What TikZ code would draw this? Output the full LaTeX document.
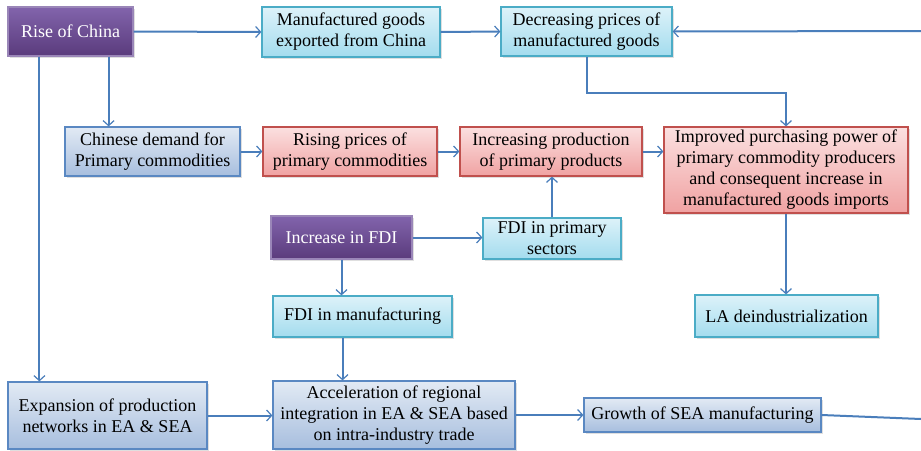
\documentclass[tikz,border=0pt]{standalone}
\usepackage{fontspec}
\setmainfont{LiberationSerif}[Extension=.ttf, UprightFont=*-Regular, BoldFont=*-Bold]
\usetikzlibrary{arrows.meta,shadows,calc}
\definecolor{purT}{HTML}{8264AC}
\definecolor{purB}{HTML}{5A3B7C}
\definecolor{purD}{HTML}{9A86B8}
\definecolor{cyT}{HTML}{DDF2F9}
\definecolor{cyB}{HTML}{A3DCEE}
\definecolor{cyD}{HTML}{4BACC6}
\definecolor{blT}{HTML}{E2EAF4}
\definecolor{blB}{HTML}{A7BEDE}
\definecolor{blD}{HTML}{5A88C2}
\definecolor{rdT}{HTML}{FBE0E0}
\definecolor{rdB}{HTML}{F0A2A2}
\definecolor{rdD}{HTML}{C0504D}
\definecolor{arr}{HTML}{4A7EBB}
\begin{document}
\begin{tikzpicture}[x=1pt,y=-1pt,
  box/.style={rectangle, inner sep=0pt, align=center, font=\rmfamily\fontsize{18}{21}\selectfont,
     line width=1.2pt, drop shadow={opacity=0.25, shadow xshift=2pt, shadow yshift=-2pt}},
  pur/.style={box, draw=purD, top color=purT, bottom color=purB, text=white},
  cy/.style={box, draw=cyD, top color=cyT, bottom color=cyB},
  bl/.style={box, draw=blD, top color=blT, bottom color=blB},
  rd/.style={box, draw=rdD, top color=rdT, bottom color=rdB},
  con/.style={draw=arr, line width=2pt, -{Straight Barb[length=5pt,width=11pt,line width=1.2pt]}},
  plain/.style={draw=arr, line width=2pt}]
\useasboundingbox (0,0) rectangle (921,450);
\fill[white] (0,0) rectangle (921,450);

\node[pur, minimum width=125pt, minimum height=49pt] (rise) at (70.5,31.5) {Rise of China};
\node[cy, minimum width=178pt, minimum height=50pt] (manu) at (351,32) {Manufactured goods\\exported from China};
\node[cy, minimum width=171pt, minimum height=49pt] (decr) at (586.5,31.5) {Decreasing prices of\\manufactured goods};
\node[bl, minimum width=175pt, minimum height=49pt] (chin) at (152.5,151.5) {Chinese demand for\\Primary commodities};
\node[rd, minimum width=174pt, minimum height=49pt] (risp) at (350,151.5) {Rising prices of\\primary commodities};
\node[rd, minimum width=182pt, minimum height=49pt] (incp) at (551,151.5) {Increasing production\\of primary products};
\node[rd, minimum width=244pt, minimum height=86pt] (impr) at (786,170) {Improved purchasing power of\\primary commodity producers\\and consequent increase in\\manufactured goods imports};
\node[pur, minimum width=141pt, minimum height=43pt] (ifdi) at (341.5,237.5) {Increase in FDI};
\node[cy, minimum width=138pt, minimum height=41pt] (fdip) at (552,238.5) {FDI in primary\\sectors};
\node[cy, minimum width=179pt, minimum height=41pt] (fdim) at (362.5,316.5) {FDI in manufacturing};
\node[cy, minimum width=183pt, minimum height=42pt] (lade) at (786.5,316) {LA deindustrialization};
\node[bl, minimum width=199pt, minimum height=67pt] (expn) at (107.5,415.5) {Expansion of production\\networks in EA \& SEA};
\node[bl, minimum width=242pt, minimum height=68pt] (accl) at (394,415) {Acceleration of regional\\integration in EA \& SEA based\\on intra-industry trade};
\node[bl, minimum width=237pt, minimum height=34pt] (grow) at (702.5,415) {Growth of SEA manufacturing};

\coordinate (inR) at (921,31);
\coordinate (outR) at (921,419);

\draw[con] (rise.east) -- (manu.west);
\draw[con] (manu.east) -- (decr.west);
\draw[con] (inR) -- (decr.east);
\draw[con] (decr.south) -- ++(0,36) -| (impr.north);
\draw[con] ([xshift=-25pt]rise.south east) -- ([xshift=-25pt]rise.south east |- chin.north);
\draw[con] ([xshift=32pt]rise.south west) -- ([xshift=32pt]rise.south west |- expn.north);
\draw[con] (chin.east) -- (risp.west);
\draw[con] (risp.east) -- (incp.west);
\draw[con] (incp.east) -- (incp.east -| impr.west);
\draw[con] (fdip.north) -- (fdip.north |- incp.south);
\draw[con] (ifdi.east) -- (ifdi.east -| fdip.west);
\draw[con] (ifdi.south) -- (ifdi.south |- fdim.north);
\draw[con] ([xshift=-20pt]fdim.south) -- ([xshift=-20pt]fdim.south |- accl.north);
\draw[con] (impr.south) -- (impr.south |- lade.north);
\draw[con] (expn.east) -- (expn.east -| accl.west);
\draw[con] (accl.east) -- (accl.east -| grow.west);
\draw[plain] (grow.east) -- (outR);
\end{tikzpicture}
\end{document}
